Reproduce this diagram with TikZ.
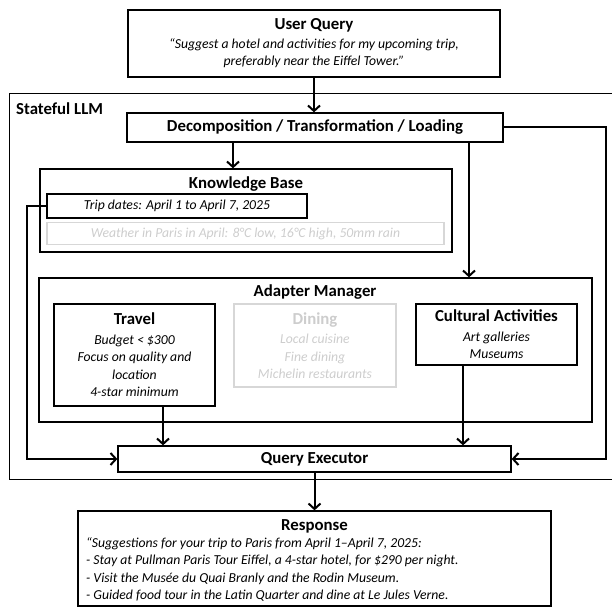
\documentclass[tikz,border=0pt]{standalone}
\usepackage{fontspec}
\setmainfont{Carlito}
\usetikzlibrary{arrows.meta}
\definecolor{faint}{RGB}{205,205,205}
\definecolor{faintline}{RGB}{215,215,215}
\newcommand\titlef{\fontsize{16.8}{20}\selectfont\bfseries\upshape}
\newcommand\bodyf{\fontsize{13.7}{17.5}\selectfont\itshape}
\begin{document}
\begin{tikzpicture}[x=1pt,y=-1pt,
  box/.style={draw=black, line width=1.3pt, rectangle, inner sep=0pt, align=center, font=\bodyf},
  greybox/.style={draw=faintline, line width=1.3pt, rectangle, inner sep=0pt, align=center, font=\bodyf, text=faint},
  ttl/.style={font=\titlef, inner sep=0pt},
  conn/.style={line width=2pt, -{Straight Barb[length=5.5pt,width=12pt]}},
]
\useasboundingbox (0,0) rectangle (612,609);

% outer stateful LLM box
\node[box, anchor=north west, minimum width=607, minimum height=386] (llm) at (9,93) {};
\node[ttl, anchor=west] (llmlabel) at (16,109) {Stateful LLM};

% user query
\node[box, minimum width=372, minimum height=67] (uq) at (314,43.5)
  {{\titlef User Query}\\[1pt] “Suggest a hotel and activities for my upcoming trip,\\ preferably near the Eiffel Tower.”};

% decomposition
\node[box, minimum width=376, minimum height=29, font=\titlef] (dec) at (315,127.5) {Decomposition / Transformation / Loading};

% knowledge base
\node[box, minimum width=412, minimum height=83] (kb) at (246,210.5) {};
\node[ttl] (kbt) at (246,184) {Knowledge Base};
\node[box, minimum width=260, minimum height=24] (trip) at (177,206) {Trip dates: April 1 to April 7, 2025};
\node[greybox, minimum width=397, minimum height=22] (weather) at (245.5,233.5) {Weather in Paris in April: 8°C low, 16°C high, 50mm rain};

% adapter manager
\node[box, minimum width=553, minimum height=144] (am) at (315.5,350) {};
\node[ttl] (amt) at (315,292) {Adapter Manager};
\node[box, minimum width=161, minimum height=102] (travel) at (134.5,355)
  {{\titlef Travel}\\[2pt] Budget < \$300\\ Focus on quality and\\ location\\ 4-star minimum};
\node[greybox, minimum width=162, minimum height=83] (dining) at (315,345.5)
  {{\titlef Dining}\\[2pt] Local cuisine\\ Fine dining\\ Michelin restaurants};
\node[box, minimum width=161, minimum height=61] (cult) at (496.5,334.5)
  {{\titlef Cultural Activities}\\[2pt] Art galleries\\ Museums};

% query executor
\node[box, minimum width=393, minimum height=26, font=\titlef] (qe) at (314.5,459) {Query Executor};

% response
\node[box, minimum width=473, minimum height=95] (resp) at (314.5,558.5) {};
\node[ttl] (respt) at (314.5,526) {Response};
\node[anchor=north west, inner sep=0pt, font=\bodyf, align=left] (resptext) at (86,537)
  {“Suggestions for your trip to Paris from April 1–April 7, 2025:\\
   - Stay at Pullman Paris Tour Eiffel, a 4-star hotel, for \$290 per night.\\
   - Visit the Musée du Quai Branly and the Rodin Museum.\\
   - Guided food tour in the Latin Quarter and dine at Le Jules Verne.};

% helper x positions
\coordinate (kbx) at (233,0);
\coordinate (amx) at (469,0);
\coordinate (rx) at (606,0);
\coordinate (lx) at (27,0);
\coordinate (tx) at (163,0);
\coordinate (cx) at (463,0);

% connectors
\draw[conn] (uq.south) -- (uq.south |- dec.north);
\draw[conn] (dec.south -| kbx) -- (kbx |- kb.north);
\draw[conn] (dec.south -| amx) -- (amx |- am.north);
\draw[conn] (dec.east) -| (rx |- qe.east) -- (qe.east);
\draw[conn] (trip.west) -| (lx |- qe.west) -- (qe.west);
\draw[conn] (travel.south -| tx) -- (tx |- qe.north);
\draw[conn] (cult.south -| cx) -- (cx |- qe.north);
\draw[conn] (qe.south) -- (qe.south |- resp.north);
\end{tikzpicture}
\end{document}
